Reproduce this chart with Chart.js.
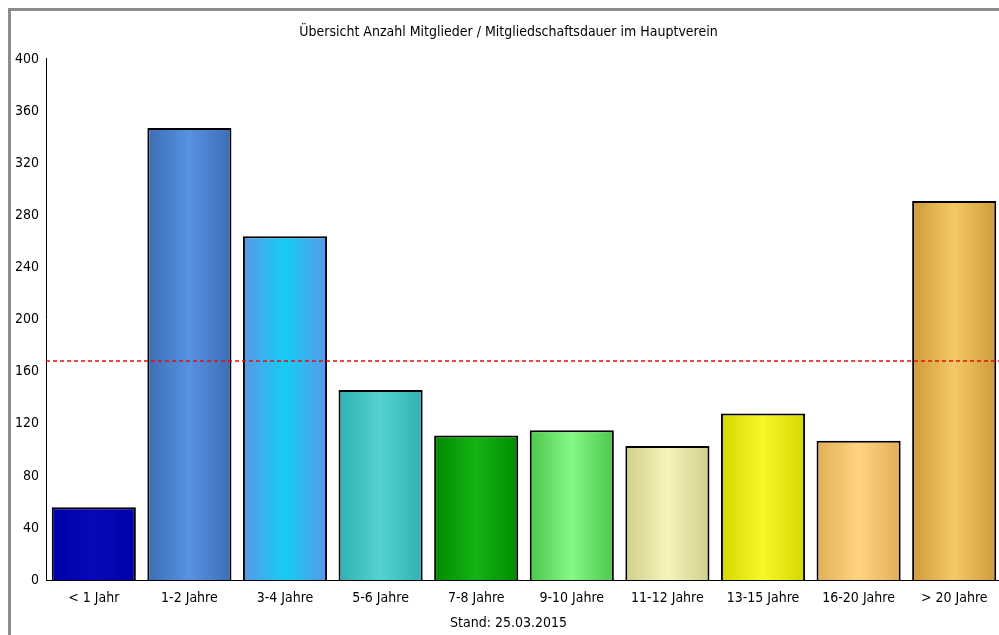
<!DOCTYPE html>
<html lang="de">
<head>
<meta charset="utf-8">
<title>Mitgliedschaftsdauer</title>
<script src="https://cdn.jsdelivr.net/npm/chart.js@4.4.1/dist/chart.umd.min.js"></script>
<style>
    html, body { margin: 0; padding: 0; background: #fff; overflow: hidden; }
    body { width: 999px; height: 635px; position: relative; }
    .rahmen {
        position: absolute; left: 8px; top: 8px; width: 2000px; height: 2000px;
        border-top: 3px solid #8c8c8c; border-left: 3px solid #8c8c8c;
    }
    .chart-box { position: absolute; left: 0; top: 0; width: 1017px; height: 635px; }
</style>
</head>
<body>
<div class="rahmen"></div>
<div class="chart-box"><canvas id="dauerChart"></canvas></div>
<script>
// --- Daten ---
const kategorien = ['< 1 Jahr', '1-2 Jahre', '3-4 Jahre', '5-6 Jahre', '7-8 Jahre',
                    '9-10 Jahre', '11-12 Jahre', '13-15 Jahre', '16-20 Jahre', '> 20 Jahre'];
const mitglieder = [56, 347, 264, 146, 111, 115, 103, 128, 107, 291];
const durchschnitt = 168;   // rote gestrichelte Linie
const yMin = 0, yMax = 400, yStep = 40;

const titelText = 'Übersicht Anzahl Mitglieder / Mitgliedschaftsdauer im Hauptverein';
const standText = 'Stand: 25.03.2015';

// Farben: Rand / Mitte für den Verlauf jedes Balkens
const farbenRand  = ['#0000a8', '#3d6db3', '#5a98e8', '#2fb0b2', '#008a00',
                     '#4cc74c', '#cfcf8c', '#d6d600', '#e2ae56', '#cf9a3a'];
const farbenMitte = ['#0808b8', '#5692e2', '#16ccf4', '#55d2d0', '#14b414',
                     '#86f886', '#f6f4ba', '#f8f82a', '#ffd482', '#f4c866'];

const schrift = "'Liberation Sans Narrow', 'DejaVu Sans Condensed', 'Liberation Sans', sans-serif";
const BALKEN_ANTEIL = 0.88;

// Verlauf pro Balken (horizontal, dunkle Ränder, helle Mitte)
function balkenFarbe(context) {
    const i = context.dataIndex;
    const chart = context.chart;
    const { chartArea, scales } = chart;
    if (!chartArea || i === undefined || !scales.x) return farbenMitte[i] || '#888';
    const x = scales.x.getPixelForValue(i);
    const halb = (scales.x.width / kategorien.length) * BALKEN_ANTEIL / 2;
    const g = chart.ctx.createLinearGradient(x - halb, 0, x + halb, 0);
    g.addColorStop(0, farbenRand[i]);
    g.addColorStop(0.5, farbenMitte[i]);
    g.addColorStop(1, farbenRand[i]);
    return g;
}

// rote gestrichelte Durchschnittslinie
const mittelLinie = {
    id: 'mittelLinie',
    afterDatasetsDraw(chart) {
        const { ctx, chartArea, scales } = chart;
        const y = Math.round(scales.y.getPixelForValue(durchschnitt));
        ctx.save();
        ctx.strokeStyle = '#e01010';
        ctx.lineWidth = 1.5;
        ctx.setLineDash([4, 3]);
        ctx.beginPath();
        ctx.moveTo(chartArea.left, y);
        ctx.lineTo(chartArea.right, y);
        ctx.stroke();
        ctx.restore();
    }
};

const ctx = document.getElementById('dauerChart').getContext('2d');
new Chart(ctx, {
    type: 'bar',
    data: {
        labels: kategorien,
        datasets: [{
            data: mitglieder,
            backgroundColor: balkenFarbe,
            borderColor: '#000',
            borderWidth: 2,
            borderSkipped: 'bottom',
            categoryPercentage: 1,
            barPercentage: BALKEN_ANTEIL
        }]
    },
    options: {
        responsive: true,
        maintainAspectRatio: false,
        animation: false,
        layout: { padding: 0 },
        plugins: {
            legend: { display: false },
            tooltip: { enabled: false },
            title: {
                display: true,
                text: titelText,
                color: '#000',
                font: { family: schrift, size: 14, weight: 'normal' },
                padding: { top: 23.6, bottom: 18.5 }
            },
            subtitle: {
                display: true,
                position: 'bottom',
                text: standText,
                color: '#000',
                font: { family: schrift, size: 14, weight: 'normal' },
                padding: { top: -1.6, bottom: 3.6 }
            }
        },
        scales: {
            x: {
                grid: { display: false, drawTicks: false },
                border: { display: true, color: '#000', width: 1 },
                ticks: { color: '#000', padding: 9.6, maxRotation: 0, autoSkip: false,
                         font: { family: schrift, size: 14 } }
            },
            y: {
                min: yMin,
                max: yMax,
                grid: { display: false, drawTicks: false },
                border: { display: true, color: '#000', width: 1 },
                ticks: { stepSize: yStep, color: '#000', padding: 7,
                         font: { family: schrift, size: 14 } },
                afterFit(scale) { scale.width = 46; }
            },
            // leerer Rand rechts (Diagramm läuft über den Bildrand hinaus)
            rechts: {
                type: 'linear',
                position: 'right',
                display: true,
                grid: { display: false, drawTicks: false },
                border: { display: false },
                ticks: { display: false },
                afterFit(scale) { scale.width = 15; }
            }
        }
    },
    plugins: [mittelLinie]
});
</script>
</body>
</html>
